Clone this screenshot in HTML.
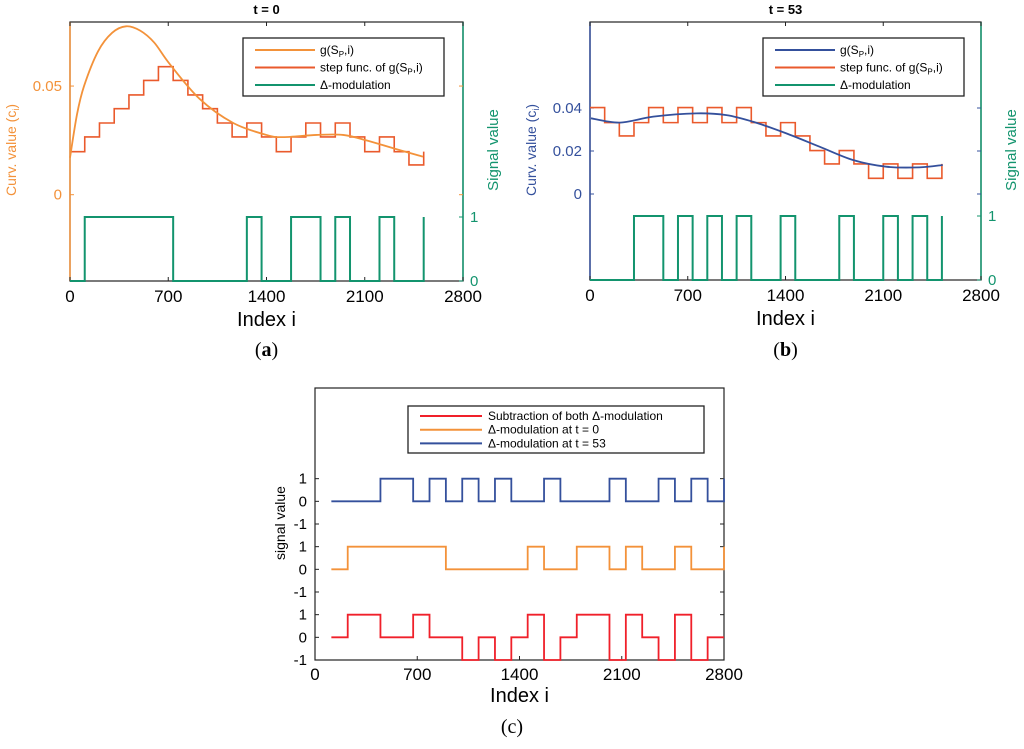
<!DOCTYPE html>
<html><head><meta charset="utf-8"><style>
body{margin:0;background:#fff;width:1024px;height:744px;overflow:hidden}
svg{font-family:"Liberation Sans",sans-serif}
</style></head><body>
<svg id="s" width="1024" height="744" viewBox="0 0 1024 744"></svg>
<script>
// ---- Panel (a) data ----
const aCurveI=[0,50,100,200,300,400,500,600,712,925,1163,1400,1519,1756,1946,2112,2349,2515];
const aCurveC=[0.017,0.037,0.050,0.066,0.0745,0.0775,0.0755,0.070,0.060,0.044,0.033,0.0275,0.0265,0.0275,0.0275,0.025,0.0205,0.0175];
const aSteps=[0.0198,0.0266,0.033,0.0396,0.0459,0.0526,0.0589,0.0526,0.0459,0.0396,0.033,0.0266,0.033,0.0266,0.0198,0.0266,0.033,0.0266,0.033,0.0266,0.0198,0.0266,0.0198,0.0137,0.0198];
const aDelta=[0,1,1,1,1,1,1,0,0,0,0,0,1,0,0,1,1,0,1,0,0,1,0,0,1];
// ---- Panel (b) data ----
const bCurveI=[7,214,453,762,977,1168,1406,1644,1883,2121,2359,2526];
const bCurveC=[0.0352,0.0332,0.036,0.0375,0.0367,0.0336,0.0282,0.022,0.0158,0.0127,0.0124,0.0135];
const bSteps=[0.0402,0.0332,0.027,0.0332,0.0402,0.0332,0.0402,0.0332,0.0402,0.0332,0.0402,0.0332,0.027,0.0332,0.027,0.0202,0.014,0.0202,0.014,0.0073,0.014,0.0073,0.014,0.0073,0.014];
const bDelta=[0,0,0,1,1,0,1,0,1,0,1,0,0,1,0,0,0,1,0,0,1,0,1,0,1];
// ---- Panel (c) data ----
const cBlue=[0,0,0,1,1,0,1,0,1,0,1,0,0,1,0,0,0,1,0,0,1,0,1,0,1];
const cOrange=[0,1,1,1,1,1,1,0,0,0,0,0,1,0,0,1,1,0,1,0,0,1,0,0,1];
const cRed=[0,1,1,0,0,1,0,0,-1,0,-1,0,1,-1,0,1,1,-1,1,0,-1,1,-1,0,0];
const xTicks=[0,700,1400,2100,2800];
const aYTicks=[0,0.05], bYTicks=[0,0.02,0.04], sigTicks=[0,1];
const cYTickVals=[-1,0,1,-1,0,1,-1,0,1];

const S=document.getElementById('s');const NS='http://www.w3.org/2000/svg';
function mk(t,at,txt){const e=document.createElementNS(NS,t);for(const k in at)e.setAttribute(k,at[k]);if(txt!==undefined)e.textContent=txt;S.appendChild(e);return e;}
function lin(d0,d1,r0,r1){return v=>r0+(v-d0)/(d1-d0)*(r1-r0);}
function stepPath(vals,w,x0,X,Y){let d='',i;for(i=0;i<vals.length-1;i++){const xa=X(x0+i*w),xb=X(x0+(i+1)*w),y=Y(vals[i]);d+=(i?'L':'M')+xa+','+y+'L'+xb+','+y;}
 d+='L'+X(x0+i*w)+','+Y(vals[i]);return d;}
function curvePath(xs,ys,X,Y){const p=xs.map((v,i)=>[X(v),Y(ys[i])]);let d='M'+p[0];for(let i=0;i<p.length-1;i++){const p0=p[i-1]||p[i],p1=p[i],p2=p[i+1],p3=p[i+2]||p2;
 d+='C'+(p1[0]+(p2[0]-p0[0])/6)+','+(p1[1]+(p2[1]-p0[1])/6)+' '+(p2[0]-(p3[0]-p1[0])/6)+','+(p2[1]-(p3[1]-p1[1])/6)+' '+p2;}return d;}

function panelAB(o){
 const X=lin(0,2800,o.x0,o.x1),Y=lin(0,o.ymax,o.zeroY,o.zeroY-(o.ymax)*o.ppu),YS=lin(0,1,o.y1,o.y1-64);
 let e;
 e=mk('text',{x:(o.x0+o.x1)/2,y:14,'text-anchor':'middle','font-size':13,'font-weight':'bold'},o.title);
 e=mk('rect',{x:o.x0,y:o.y0,width:o.x1-o.x0,height:o.y1-o.y0,fill:'none',stroke:'#222','stroke-width':1.2});
 mk('line',{x1:o.x0,y1:o.y0,x2:o.x0,y2:o.y1,stroke:o.lc,'stroke-width':1.5});
 mk('line',{x1:o.x1,y1:o.y0,x2:o.x1,y2:o.y1,stroke:'#13946e','stroke-width':1.5});
 xTicks.forEach(t=>{mk('line',{x1:X(t),y1:o.y1,x2:X(t),y2:o.y1-4,stroke:'#222'});mk('line',{x1:X(t),y1:o.y0,x2:X(t),y2:o.y0+4,stroke:'#222'});
  e=mk('text',{x:X(t),y:o.y1+21,'text-anchor':'middle','font-size':17},t);});
 o.yt.forEach(t=>{mk('line',{x1:o.x0,y1:Y(t),x2:o.x0+4,y2:Y(t),stroke:o.lc});mk('line',{x1:o.x1,y1:Y(t),x2:o.x1-4,y2:Y(t),stroke:o.lc});
  e=mk('text',{x:o.x0-8,y:Y(t)+5,'text-anchor':'end','font-size':15,fill:o.lc},t);});
 sigTicks.forEach(t=>{mk('line',{x1:o.x1,y1:YS(t),x2:o.x1-4,y2:YS(t),stroke:'#13946e'});
  e=mk('text',{x:o.x1+7,y:YS(t)+5,'font-size':15,fill:'#13946e'},t);});
 e=mk('text',{x:(o.x0+o.x1)/2,y:o.y1+45,'text-anchor':'middle','font-size':20},'Index i');
 e=mk('text',{transform:`translate(${o.x0-54},150) rotate(-90)`,'text-anchor':'middle','font-size':14,fill:o.lc});e.innerHTML='Curv. value (c<tspan font-size="9" dy="3">i</tspan><tspan dy="-3">)</tspan>';
 e=mk('text',{transform:`translate(${o.x1+35},150) rotate(-90)`,'text-anchor':'middle','font-size':15,fill:'#13946e'},'Signal value');
 e=mk('path',{d:stepPath(o.delta,105,0,X,YS),fill:'none',stroke:'#13946e','stroke-width':2});
 e=mk('path',{d:stepPath(o.steps,105,0,X,Y),fill:'none',stroke:'#ea5a2c','stroke-width':1.6});
 e=mk('path',{d:curvePath(o.ci,o.cc,X,Y),fill:'none',stroke:o.lc,'stroke-width':1.8});
 const lx=o.x0+173;
 e=mk('rect',{x:lx,y:38,width:201,height:58,fill:'#fff',stroke:'#222','stroke-width':1.3});
 const items=[[o.lc,'g(S<tspan font-size="8" dy="3">P</tspan><tspan dy="-3">,i)</tspan>'],['#ea5a2c','step func. of g(S<tspan font-size="8" dy="3">P</tspan><tspan dy="-3">,i)</tspan>'],['#13946e','Δ-modulation']];
 items.forEach((it,k)=>{const y=50+k*17.5;mk('line',{x1:lx+12,y1:y,x2:lx+72,y2:y,stroke:it[0],'stroke-width':2});
  e=mk('text',{x:lx+77,y:y+4,'font-size':12});e.innerHTML=it[1];});
 e=mk('text',{x:(o.x0+o.x1)/2,y:356,'text-anchor':'middle','font-size':20,'font-family':'Liberation Serif,serif'});e.innerHTML='(<tspan font-weight="bold">'+o.tag+'</tspan>)';
}
panelAB({x0:70,x1:463,y0:22,y1:281,zeroY:194.7,ppu:2173,ymax:0.1,lc:'#f3923a',title:'t = 0',yt:aYTicks,ci:aCurveI,cc:aCurveC,steps:aSteps,delta:aDelta,tag:'a'});
panelAB({x0:590,x1:981,y0:22,y1:280,zeroY:194,ppu:2150,ymax:0.1,lc:'#34509c',title:'t = 53',yt:bYTicks,ci:bCurveI,cc:bCurveC,steps:bSteps,delta:bDelta,tag:'b'});

// Panel c
(function(){
 const x0=315,x1=724,y0=388,y1=660;const X=lin(0,2800,x0,x1),Y=lin(-1,11,y1,y0);let e;
 e=mk('rect',{x:x0,y:y0,width:x1-x0,height:y1-y0,fill:'none',stroke:'#222','stroke-width':1.2});
 xTicks.forEach(t=>{mk('line',{x1:X(t),y1:y1,x2:X(t),y2:y1-4,stroke:'#222'});
  e=mk('text',{x:X(t),y:y1+20,'text-anchor':'middle','font-size':17},t);});
 cYTickVals.forEach((t,k)=>{const y=Y(k-1);mk('line',{x1:x0,y1:y,x2:x0+4,y2:y,stroke:'#222'});mk('line',{x1:x1,y1:y,x2:x1-4,y2:y,stroke:'#222'});
  e=mk('text',{x:x0-8,y:y+5,'text-anchor':'end','font-size':15},t);});
 e=mk('text',{x:(x0+x1)/2,y:702,'text-anchor':'middle','font-size':20},'Index i');
 e=mk('text',{transform:'translate(285,523) rotate(-90)','text-anchor':'middle','font-size':14},'signal value');
 const ser=[[cBlue,6,'#34509c','blue-delta-line'],[cOrange,3,'#f3923a','orange-delta-line'],[cRed,0,'#f0202a','subtraction-line']];
 ser.forEach(s=>{const Yo=v=>Y(v+s[1]);e=mk('path',{d:stepPath(s[0],112,112,X,Yo),fill:'none',stroke:s[2],'stroke-width':1.8});});
 e=mk('rect',{x:408,y:406,width:296,height:47,fill:'#fff',stroke:'#222','stroke-width':1.3});
 [['#f0202a','Subtraction of both Δ-modulation'],['#f3923a','Δ-modulation at t = 0'],['#34509c','Δ-modulation at t = 53']].forEach((it,k)=>{const y=416+k*13.7;
  mk('line',{x1:420,y1:y,x2:482,y2:y,stroke:it[0],'stroke-width':2});
  e=mk('text',{x:488,y:y+4,'font-size':12},it[1]);});
 e=mk('text',{x:512,y:733,'text-anchor':'middle','font-size':20,'font-family':'Liberation Serif,serif'},'(c)');
})();
</script>
</body></html>
